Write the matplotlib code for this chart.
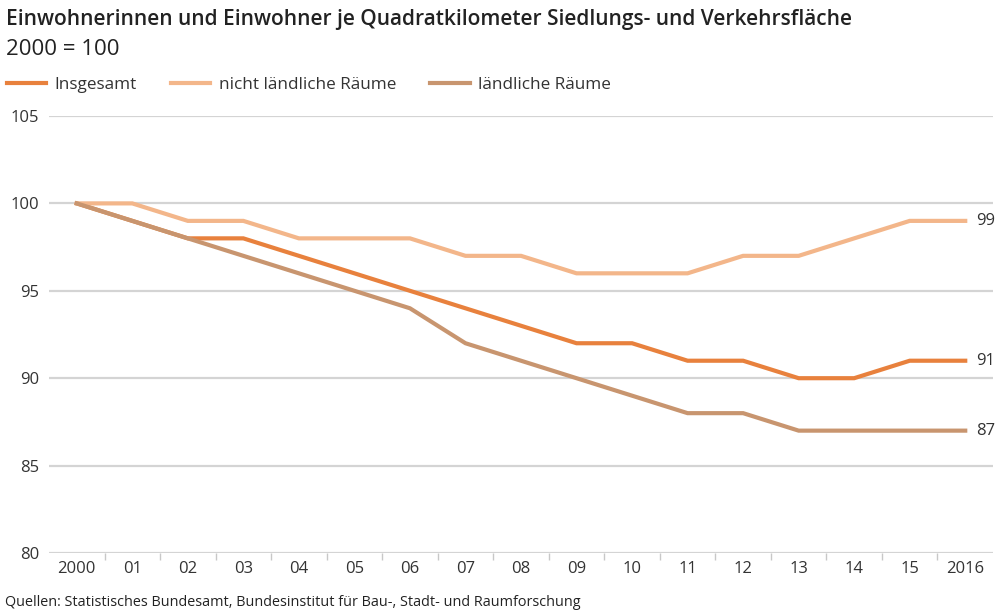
import numpy as np
import matplotlib
matplotlib.use("Agg")
import matplotlib.pyplot as plt
from matplotlib.lines import Line2D

plt.rcParams['font.family'] = ['Open Sans', 'DejaVu Sans']

# data (2000 = 100)
years = ['2000', '01', '02', '03', '04', '05', '06', '07', '08',
         '09', '10', '11', '12', '13', '14', '15', '2016']
insgesamt = [100, 99, 98, 98, 97, 96, 95, 94, 93, 92, 92, 91, 91, 90, 90, 91, 91]
nicht_laendlich = [100, 100, 99, 99, 98, 98, 98, 97, 97, 96, 96, 96, 97, 97, 98, 99, 99]
laendlich = [100, 99, 98, 97, 96, 95, 94, 92, 91, 90, 89, 88, 88, 87, 87, 87, 87]

series = [
    ('Insgesamt', insgesamt, '#e8813d'),
    ('nicht ländliche Räume', nicht_laendlich, '#f3b68a'),
    ('ländliche Räume', laendlich, '#c8956f'),
]

fig = plt.figure(figsize=(9.96, 6.12), dpi=100)
ax = fig.add_axes([49/996, 1 - 553/612, (993 - 49)/996, (553 - 116)/612])

x = np.arange(len(years))
for name, vals, col in series:
    ax.plot(x, vals, color=col, lw=3, solid_joinstyle='miter', zorder=3)
    ax.annotate(str(vals[-1]), (x[-1], vals[-1]), xytext=(8, 0),
                textcoords='offset points', va='center', ha='left',
                fontsize=12, color='#333333')

ax.set_xlim(-0.5, len(years) - 0.5)
ax.set_ylim(80, 105)
ax.set_yticks([80, 85, 90, 95, 100, 105])
ax.grid(axis='y', color='#d4d4d4', lw=1.6, zorder=0)
ax.set_axisbelow(True)
for s in ax.spines.values():
    s.set_visible(False)

ax.set_xticks(x)
ax.set_xticklabels(years)
ax.set_xticks(x[:-1] + 0.5, minor=True)
ax.tick_params(axis='x', which='major', length=0, pad=6, labelsize=12, colors='#333333')
ax.tick_params(axis='x', which='minor', length=5, width=1, color='#c8c8c8')
ax.tick_params(axis='y', length=0, pad=7, labelsize=12, colors='#333333')

# title block
fig.text(0.006, 0.968, 'Einwohnerinnen und Einwohner je Quadratkilometer Siedlungs- und Verkehrsfläche',
         fontsize=15, fontweight='semibold', color='#222222', va='center')
fig.text(0.006, 0.919, '2000 = 100', fontsize=16, color='#222222', va='center')

# legend
handles = [Line2D([], [], color=c, lw=3) for _, _, c in series]
fig.legend(handles, [n for n, _, _ in series], loc='center left',
           bbox_to_anchor=(0.0, 0.861), ncol=3, frameon=False,
           handlelength=2.3, handletextpad=0.5, columnspacing=2.0,
           fontsize=12.3, labelcolor='#333333', borderaxespad=0)

fig.text(0.005, 0.016, 'Quellen: Statistisches Bundesamt, Bundesinstitut für Bau-, Stadt- und Raumforschung',
         fontsize=10.4, color='#222222', va='center')

fig.savefig('out.png', dpi=100)
